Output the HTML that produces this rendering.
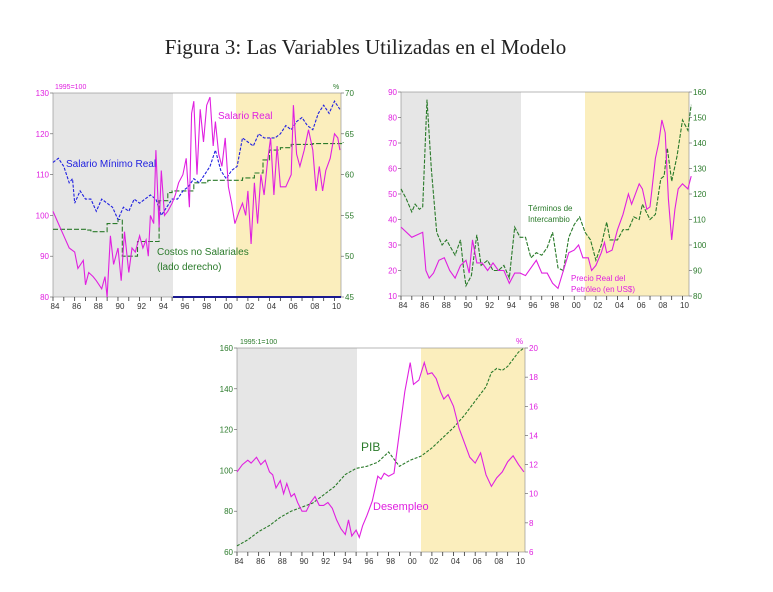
<!DOCTYPE html>
<html><head><meta charset="utf-8"><style>
body{margin:0;background:#fff;width:773px;height:592px;overflow:hidden;font-family:"Liberation Sans",sans-serif}
#t{position:absolute;left:0;width:731px;top:35px;text-align:center;font-family:"Liberation Serif",serif;font-size:21px;color:#222}
svg{position:absolute;left:0;top:0}
</style></head><body>
<div id="t">Figura 3: Las Variables Utilizadas en el Modelo</div>
<svg id="s" width="773" height="592" xmlns="http://www.w3.org/2000/svg"></svg>
<script>
const S=document.getElementById('s');let h='';
const M='#e020e0',G='#2a7a2a',B='#2020e0';
function chart(c){
 const {x0,x1,y0,y1,gray,yel}=c;
 const X=y=>x0+(y-84)/26.6*(x1-x0);
 h+=`<rect x="${x0}" y="${y0}" width="${gray-x0}" height="${y1-y0}" fill="#e6e6e6"/>`;
 h+=`<rect x="${yel}" y="${y0}" width="${x1-yel}" height="${y1-y0}" fill="#fbeebd"/>`;
 h+=`<rect x="${x0}" y="${y0}" width="${x1-x0}" height="${y1-y0}" fill="none" stroke="#888" stroke-width="0.6"/>`;
 for(let y=84;y<=110;y++){const x=X(y);h+=`<line x1="${x}" y1="${y1}" x2="${x}" y2="${y1+4}" stroke="#333" stroke-width="0.8"/>`;
  if(y%2==0)h+=`<text x="${x+2}" y="${y1+12}" font-size="8" fill="#333" text-anchor="middle" textLength="9">${String(y%100).padStart(2,'0')}</text>`;}
 const ax=(a,side)=>{for(let i=0;i<a.n;i++){const v=a.lo+i*a.st;const y=y1-(v-a.lo)/(a.hi-a.lo)*(y1-y0);
  const x=side?x1+4:x0-4;h+=`<line x1="${side?x1:x0-3}" y1="${y}" x2="${side?x1+3:x0}" y2="${y}" stroke="#555" stroke-width="0.6"/>`;
  h+=`<text x="${x}" y="${y+3}" font-size="8" fill="${a.c}" text-anchor="${side?'start':'end'}">${v}</text>`;}};
 ax(c.L,0);ax(c.R,1);
 c.series.forEach(s=>{const a=s.ax=='L'?c.L:c.R;const Y=v=>y1-(v-a.lo)/(a.hi-a.lo)*(y1-y0);
  let p=[];for(let i=0;i<s.d.length;i+=2){const x=X(s.d[i]),y=Y(s.d[i+1]);if(s.step&&p.length){p.push(x.toFixed(1)+','+p[p.length-1].split(',')[1]);}p.push(x.toFixed(1)+','+y.toFixed(1));}
  h+=`<polyline points="${p.join(' ')}" fill="none" stroke="${s.c}" stroke-width="${s.w||1.1}" ${s.dash?`stroke-dasharray="${s.dash}"`:''}/>`;});
 (c.txt||[]).forEach(t=>h+=`<text x="${t[0]}" y="${t[1]}" font-size="${t[3]||10}" fill="${t[2]}">${t[4]}</text>`);
}
chart({x0:53,x1:341,y0:93,y1:297,gray:173,yel:236,
 L:{lo:80,hi:130,st:10,n:6,c:M},R:{lo:45,hi:70,st:5,n:6,c:G},
 series:[
 {ax:'R',c:G,step:1,dash:'5,2',d:[84,53.3,87,53.2,87.5,53,88.6,53,89,54,90,54.5,90.4,50,91.6,50,91.8,51.8,93.7,51.8,93.8,56.8,94.6,57.8,95,58,97,59,98.3,59.3,101.5,59.6,102.6,60.2,103.4,61.8,104,63,105,63.3,106,63.7,108,63.8,110.8,64]},
 {ax:'L',c:B,dash:'3,1.5',d:[84,113,84.5,114,85,112,85.5,108,85.8,109,86,103,86.5,106,87,104,87.5,104,88,101,88.5,104,89,103,89.5,102,90,99,90.5,102,91,101,91.5,104,92,103,92.5,104,93,105,93.5,104,94,100,94.5,102,95,104,95.5,104,96,106,96.5,107,97,109,97.5,108,98,110,98.5,112,99,116,99.5,111,100,109,100.5,111,101,112,101.5,119,102,118,102.5,117,103,120,103.5,119,104,119,104.5,119,105,120,105.5,122,106,121,106.5,123,107,124,107.5,122,108,121,108.5,125,109,127,109.5,125,110,128,110.5,126]},
 {ax:'L',c:M,d:[84,101,84.5,98,85,95,85.5,92,86,91,86.3,87,86.8,89,87,83,87.3,86,87.7,85,88,84,88.5,82,88.8,85,89,80,89.3,95,89.6,88,90,92,90.3,84,90.6,96,91,86,91.3,92,91.6,91,92,95,92.3,92,92.6,94,92.8,90,93,100,93.3,98,93.5,116,93.8,97,94,111,94.3,100,94.6,101,95,103,95.3,105,95.6,108,96,110,96.3,114,96.6,102,96.8,125,97,128,97.3,110,97.6,126,97.9,118,98.2,127,98.5,129,98.8,117,99,123,99.3,115,99.6,112,99.9,119,100.2,107,100.5,103,100.8,98,101.2,101,101.5,103,101.8,100,102,106,102.3,93,102.6,108,102.9,98,103.2,110,103.5,105,103.8,113,104.1,119,104.4,105,104.7,117,105,107,105.5,107,106,110,106.2,127,106.5,115,106.8,112,107.2,116,107.6,121,108,116,108.3,106,108.6,112,108.9,106,109.2,111,109.6,114,110,120,110.3,119,110.5,116]}],
 txt:[[55,89,M,7,'1995=100'],[333,89,G,7,'%'],[218,119,M,10,'Salario Real'],[66,167,B,10,'Salario Mínimo Real'],[157,255,G,10,'Costos no Salariales'],[157,270,G,10,'(lado derecho)']]});
h+=`<line x1="173" y1="297" x2="341" y2="297" stroke="#1a1a90" stroke-width="2"/>`;
chart({x0:401,x1:689,y0:92,y1:296,gray:521,yel:585,
 L:{lo:10,hi:90,st:10,n:9,c:M},R:{lo:80,hi:160,st:10,n:9,c:G},
 series:[
 {ax:'R',c:G,dash:'4,1.5',d:[84,122,84.5,118,85,113,85.3,116,85.7,114,86,115,86.4,157,86.8,130,87.3,105,87.8,100,88.2,102,88.6,99,89,96,89.5,102,89.8,90,90,84,90.5,88,91,104,91.4,92,92,94,92.5,90,93,90,93.5,92,94,87,94.5,107,95,103,95.5,103,96,95,96.5,97,97,96,97.5,99,98,105,98.5,91,99,90,99.5,103,100,108,100.5,111,101,105,101.5,102,102,94,102.5,100,103,109,103.3,102,104,102,104.5,106,105,106,105.5,111,106,110,106.3,116,107,110,107.5,112,108,126,108.3,127,108.6,138,109,125,109.5,135,110,149,110.5,145,110.8,155]},
 {ax:'L',c:M,d:[84,37,85,33,86,35,86.3,20,86.6,17,87,19,87.5,24,88,25,88.5,20,89,17,89.5,22,90,24,90.3,19,90.6,32,91,23,91.5,23,92,20,92.5,23,93,20,93.5,20,94,15,94.5,19,95,19,95.5,18,96,21,96.5,24,97,19,97.5,19,98,15,98.5,13,99,20,99.5,27,100,28,100.4,30,100.8,25,101.3,25,101.6,20,102,22,102.5,27,102.8,31,103,27,103.5,28,104,36,104.5,42,105,50,105.3,46,106,54,106.3,52,106.7,44,107,45,107.5,64,107.8,70,108.1,79,108.4,74,108.7,48,109,32,109.3,44,109.6,52,110,54,110.5,52,110.8,57]}],
 txt:[[528,211,G,8,'Términos de'],[528,222,G,8,'Intercambio'],[571,281,M,8,'Precio Real del'],[571,292,M,8,'Petróleo (en US$)']]});
chart({x0:237,x1:525,y0:348,y1:552,gray:357,yel:421,
 L:{lo:60,hi:160,st:20,n:6,c:G},R:{lo:6,hi:20,st:2,n:8,c:M},
 series:[
 {ax:'L',c:G,dash:'3,1.5',d:[84,63,85,66,86,70,87,73,88,77,89,80,90,82,91,84,92,88,93,92,94,98,95,101,96,102,97,104,98,109,99,102,100,105,101,107,102,111,103,116,104,121,105,127,106,134,107,141,107.5,148,108,150,108.5,149,109,151,110,158,110.5,160]},
 {ax:'R',c:M,d:[84,11.5,84.5,12,85,12.3,85.3,12.1,85.8,12.5,86.2,12,86.6,12.3,87,11.5,87.3,11.3,87.6,10.4,88,10.9,88.3,10,88.6,10.7,89,9.8,89.3,10,89.6,9.4,90,8.8,90.4,8.8,90.8,9.4,91.2,9.8,91.6,9.2,92,9.2,92.4,9.4,92.8,9,93.2,8.2,93.6,7.6,94,7.2,94.3,8.2,94.6,7.1,95,7.5,95.3,7,95.6,7.8,96,8.5,96.5,9.5,97,11.2,97.3,11,97.6,11.4,98,11.2,98.5,11.4,99,14.2,99.5,17,100,19,100.3,17.5,100.8,17.8,101.3,19,101.6,18.2,102,18.3,102.4,17.9,102.8,17,103.1,16.5,103.5,16.8,104,16,104.5,14.5,105,13.5,105.5,12.5,106,12.1,106.5,12.8,107,11.3,107.5,10.5,108,11.1,108.5,11.5,109,12.2,109.5,12.6,110,12,110.5,11.5]}],
 txt:[[240,344,G,7,'1995:1=100'],[516,344,M,8,'%'],[361,451,G,12,'PIB'],[373,510,M,11,'Desempleo']]});
S.innerHTML=h;
</script>
</body></html>
